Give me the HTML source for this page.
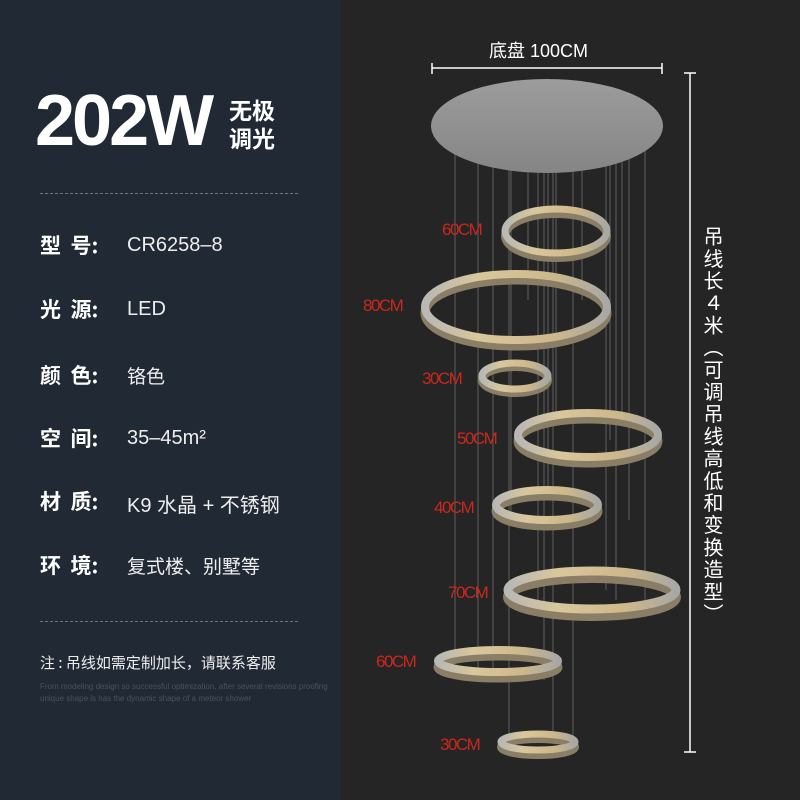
<!DOCTYPE html>
<html><head><meta charset="utf-8"><style>
html,body{margin:0;padding:0}
body{width:800px;height:800px;position:relative;overflow:hidden;background:#252525;font-family:"Liberation Sans","Noto Sans CJK SC",sans-serif}
#left{position:absolute;left:0;top:0;width:340px;height:800px;background:#212a34}
.t{position:absolute;color:#fff;white-space:nowrap}
.lab{font-family:"Noto Sans CJK SC",sans-serif;font-weight:bold;font-size:21px;letter-spacing:0}
.val{font-family:"Liberation Sans","Noto Sans CJK SC",sans-serif;font-size:20px;color:#eee}
.dash{position:absolute;left:40px;width:258px;border-top:1px dashed #6a727c}
.red{position:absolute;color:#c8281e;font-size:17px;letter-spacing:-1.5px;font-family:"Liberation Sans",sans-serif}
</style></head><body>
<div id="left"></div>
<div class="t" style="left:35px;top:80px;font-size:72px;font-weight:bold;letter-spacing:-3px;font-family:'Liberation Sans',sans-serif">202W</div>
<div class="t" style="left:229px;top:95px;font-size:23px;line-height:28px;font-weight:bold;font-family:'Noto Sans CJK SC',sans-serif">无极<br>调光</div>
<div class="dash" style="top:193px"></div>
<div class="t lab" style="left:40px;top:230px">型&nbsp;&nbsp;号:</div><div class="t val" style="left:127px;top:234px">CR6258–8</div>
<div class="t lab" style="left:40px;top:294px">光&nbsp;&nbsp;源:</div><div class="t val" style="left:127px;top:298px">LED</div>
<div class="t lab" style="left:40px;top:360px">颜&nbsp;&nbsp;色:</div><div class="t val" style="left:127px;top:362px;font-family:'Noto Sans CJK SC',sans-serif;font-size:19px">铬色</div>
<div class="t lab" style="left:40px;top:423px">空&nbsp;&nbsp;间:</div><div class="t val" style="left:127px;top:427px">35–45m²</div>
<div class="t lab" style="left:40px;top:486px">材&nbsp;&nbsp;质:</div><div class="t val" style="left:127px;top:489px">K9 水晶 + 不锈钢</div>
<div class="t lab" style="left:40px;top:550px">环&nbsp;&nbsp;境:</div><div class="t val" style="left:127px;top:552px;font-family:'Noto Sans CJK SC',sans-serif;font-size:19px">复式楼、别墅等</div>
<div class="dash" style="top:621px"></div>
<div class="t" style="left:40px;top:652px;font-size:15px;font-family:'Noto Sans CJK SC',sans-serif;color:#eee">注 : 吊线如需定制加长，请联系客服</div>
<div class="t" style="left:40px;top:682px;font-size:8px;color:#4a525c">From modeling design so successful optimization, after several revisions proofing</div>
<div class="t" style="left:40px;top:694px;font-size:8px;color:#4a525c">unique shape is has the dynamic shape of a meteor shower</div>

<svg style="position:absolute;left:0;top:0" width="800" height="800">
<defs>
<linearGradient id="pl" x1="0" y1="0" x2="0" y2="1"><stop offset="0" stop-color="#9c9c9c"/><stop offset="1" stop-color="#858585"/></linearGradient>
<linearGradient id="rg" x1="0" y1="0" x2="1" y2="0"><stop offset="0" stop-color="#b8b8b4"/><stop offset=".3" stop-color="#d9c79c"/><stop offset=".7" stop-color="#cdb88a"/><stop offset="1" stop-color="#a8a8a4"/></linearGradient>
</defs>
<line x1="432" y1="68" x2="662" y2="68" stroke="#fff" stroke-width="1.5"/>
<line x1="432" y1="63" x2="432" y2="74" stroke="#fff" stroke-width="1.5"/>
<line x1="662" y1="63" x2="662" y2="74" stroke="#fff" stroke-width="1.5"/>
<line x1="690" y1="73" x2="690" y2="752" stroke="#fff" stroke-width="1.5"/>
<line x1="684" y1="73" x2="696" y2="73" stroke="#fff" stroke-width="1.5"/>
<line x1="684" y1="752" x2="696" y2="752" stroke="#fff" stroke-width="1.5"/>
<g stroke="#707070" stroke-width="0.8">
<line x1="455" y1="118" x2="455" y2="650"/><line x1="478" y1="130" x2="478" y2="680"/><line x1="493" y1="150" x2="493" y2="670"/>
<line x1="509" y1="120" x2="509" y2="740"/><line x1="511" y1="128" x2="511" y2="520"/><line x1="528" y1="108" x2="528" y2="300"/>
<line x1="538" y1="122" x2="538" y2="600"/><line x1="544" y1="120" x2="544" y2="680"/><line x1="553" y1="105" x2="553" y2="735"/>
<line x1="548" y1="128" x2="548" y2="500"/><line x1="556" y1="128" x2="556" y2="420"/><line x1="573" y1="142" x2="573" y2="740"/>
<line x1="582" y1="112" x2="582" y2="300"/><line x1="606" y1="128" x2="606" y2="590"/><line x1="610" y1="122" x2="610" y2="440"/>
<line x1="616" y1="138" x2="616" y2="600"/><line x1="622" y1="108" x2="622" y2="420"/><line x1="629" y1="114" x2="629" y2="520"/>
<line x1="645" y1="130" x2="645" y2="600"/>
</g>
<ellipse cx="547" cy="126" rx="116" ry="47" fill="url(#pl)"/>
<g fill="none">
<ellipse cx="556" cy="236" rx="51" ry="22" stroke="#8a7e66" stroke-width="8"/>
<ellipse cx="556" cy="231" rx="51" ry="22" stroke="url(#rg)" stroke-width="7"/>
<ellipse cx="516" cy="313" rx="91" ry="33" stroke="#8a7e66" stroke-width="9"/>
<ellipse cx="516" cy="307" rx="91" ry="33" stroke="url(#rg)" stroke-width="8"/>
<ellipse cx="515" cy="380" rx="33" ry="13" stroke="#8a7e66" stroke-width="8"/>
<ellipse cx="515" cy="376" rx="33" ry="13" stroke="url(#rg)" stroke-width="7"/>
<ellipse cx="588" cy="441" rx="70" ry="22" stroke="#8a7e66" stroke-width="9"/>
<ellipse cx="588" cy="435" rx="70" ry="22" stroke="url(#rg)" stroke-width="8"/>
<ellipse cx="547" cy="511" rx="51" ry="15" stroke="#8a7e66" stroke-width="9"/>
<ellipse cx="547" cy="505" rx="51" ry="15" stroke="url(#rg)" stroke-width="8"/>
<ellipse cx="592" cy="597" rx="84" ry="19" stroke="#8a7e66" stroke-width="10"/>
<ellipse cx="592" cy="590" rx="84" ry="19" stroke="url(#rg)" stroke-width="9"/>
<ellipse cx="498" cy="667" rx="60" ry="11" stroke="#8a7e66" stroke-width="9"/>
<ellipse cx="498" cy="661" rx="60" ry="11" stroke="url(#rg)" stroke-width="8"/>
<ellipse cx="538" cy="747" rx="37" ry="8" stroke="#8a7e66" stroke-width="8"/>
<ellipse cx="538" cy="742" rx="37" ry="8" stroke="url(#rg)" stroke-width="7"/>
</g>
</svg>
<div class="t" style="left:489px;top:37px;font-size:18px;font-family:'Liberation Sans','Noto Sans CJK SC',sans-serif">底盘 100CM</div>
<div class="t" style="left:700px;top:226px;width:24px;font-size:20px;line-height:22.5px;letter-spacing:2.2px;writing-mode:vertical-rl;font-family:'Noto Sans CJK SC',sans-serif">吊线长４米（可调吊线高低和变换造型）</div>
<div class="red" style="left:442px;top:220px">60CM</div>
<div class="red" style="left:363px;top:296px">80CM</div>
<div class="red" style="left:422px;top:369px">30CM</div>
<div class="red" style="left:457px;top:429px">50CM</div>
<div class="red" style="left:434px;top:498px">40CM</div>
<div class="red" style="left:448px;top:583px">70CM</div>
<div class="red" style="left:376px;top:652px">60CM</div>
<div class="red" style="left:440px;top:735px">30CM</div>
</body></html>
